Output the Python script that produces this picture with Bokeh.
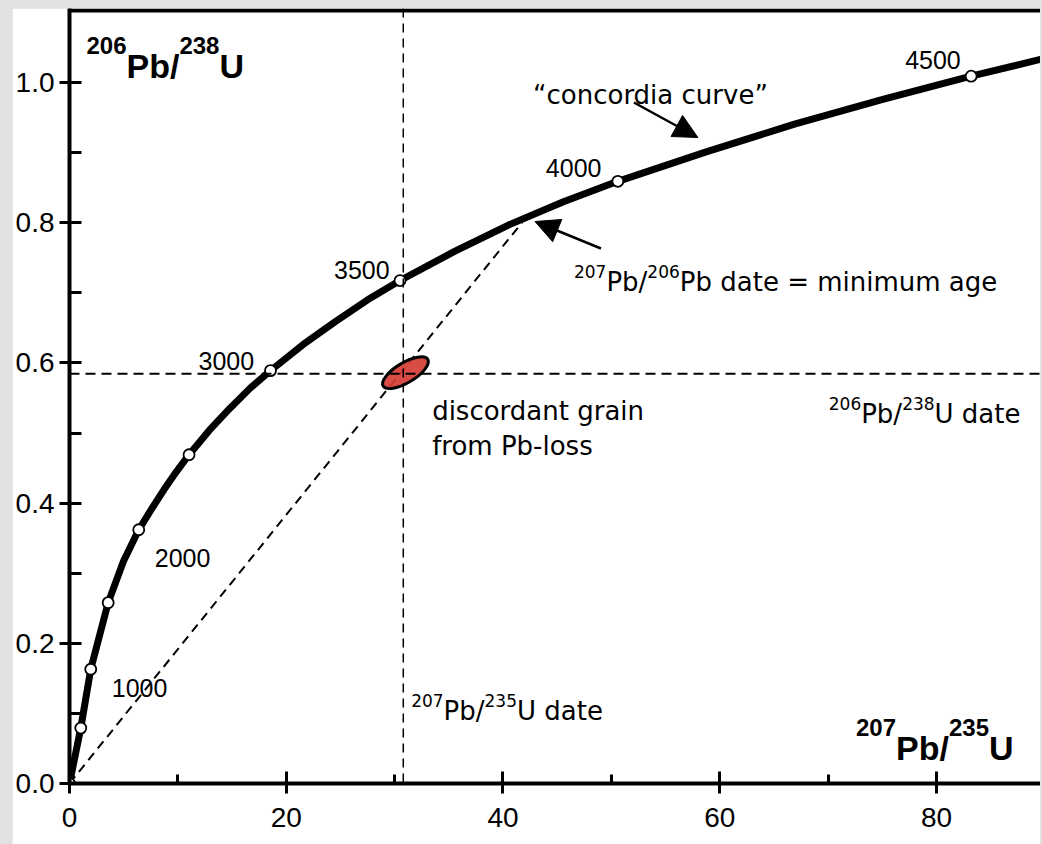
from bokeh.plotting import figure
from bokeh.models import (Range1d, FixedTicker, Span, Arrow, NormalHead,
                          ColumnDataSource, PrintfTickFormatter)
from bokeh.core.properties import value
from bokeh.embed import file_html
from bokeh.resources import INLINE

# ---------------- data ----------------
# concordia curve (207Pb/235U, 206Pb/238U)
curve_x = [0, 1.04, 1.96, 3.57, 4.98, 6.39, 7.55, 8.71, 9.87, 11.03, 12.91, 14.79,
           16.67, 18.55, 21.54, 24.53, 27.51, 30.5, 35.53, 40.55, 45.58, 50.6,
           58.75, 66.9, 75.05, 83.2, 89.6]
curve_y = [0, 0.079, 0.163, 0.258, 0.317, 0.362, 0.391, 0.419, 0.445, 0.469, 0.504,
           0.535, 0.564, 0.589, 0.626, 0.659, 0.690, 0.7175, 0.759, 0.797, 0.830,
           0.859, 0.901, 0.9405, 0.976, 1.009, 1.033]

# age markers on the curve (Ma)
marker_age = [0, 500, 1000, 1500, 2000, 2500, 3000, 3500, 4000, 4500]
marker_x = [0, 1.04, 1.96, 3.57, 6.39, 11.03, 18.55, 30.5, 50.6, 83.2]
marker_y = [0, 0.079, 0.163, 0.258, 0.362, 0.469, 0.589, 0.7175, 0.859, 1.009]
labeled_ages = [1000, 2000, 3000, 3500, 4000, 4500]

# discordant grain and its dates
grain_x = 31.0
grain_y = 0.586
pb207_u235_date = 30.8
pb206_u238_date = 0.5845
discordia_x = [0, 41.8]
discordia_y = [0, 0.801]

x_ticks = [0, 20, 40, 60, 80]
x_minor = [10, 30, 50, 70]
y_ticks = [0.0, 0.2, 0.4, 0.6, 0.8, 1.0]
y_minor = [0.1, 0.3, 0.5, 0.7, 0.9]

# ---------------- figure ----------------
X_END = 89.6
Y_END = 775 / 701.0

p = figure(width=1028, height=836, x_range=Range1d(0, X_END), y_range=Range1d(0, Y_END),
           output_backend="svg", toolbar_location=None,
           min_border_left=56, min_border_right=0, min_border_top=0, min_border_bottom=61)
p.margin = (8, 0, 0, 12)
p.grid.visible = False
p.outline_line_color = None
p.background_fill_color = "white"
p.border_fill_color = "white"

for ax in (p.xaxis[0], p.yaxis[0]):
    ax.axis_line_width = 4
    ax.major_tick_line_width = 3
    ax.minor_tick_line_width = 3
    ax.major_tick_out = 10
    ax.major_tick_in = 12
    ax.minor_tick_out = 0
    ax.major_label_text_font = "Liberation Sans"
    ax.major_label_text_font_size = "28px"
    ax.major_label_text_color = "black"

p.xaxis.ticker = FixedTicker(ticks=x_ticks, minor_ticks=x_minor)
p.yaxis.ticker = FixedTicker(ticks=y_ticks, minor_ticks=y_minor)
p.yaxis.formatter = PrintfTickFormatter(format="%.1f")
p.xaxis.minor_tick_in = 9
p.yaxis.minor_tick_in = 12
p.xaxis.major_label_standoff = 14
p.yaxis.major_label_standoff = 5

# top frame line
p.add_layout(Span(location=Y_END - 2.0 / 701, dimension="width", line_color="black", line_width=4))

# dashed reference lines
p.add_layout(Span(location=pb207_u235_date, dimension="height", line_color="black",
                  line_width=1.5, line_dash="9 6"))
p.add_layout(Span(location=pb206_u238_date, dimension="width", line_color="black",
                  line_width=2, line_dash="10 6"))
p.line(discordia_x, discordia_y, line_color="black", line_width=2, line_dash="9 6")

# concordia
p.line(curve_x, curve_y, line_color="black", line_width=7, line_join="round", line_cap="round")
p.scatter(marker_x, marker_y, size=11, fill_color="white", line_color="black", line_width=1.8)

# grain
p.ellipse(x=[grain_x], y=[grain_y], width=52, height=20, width_units="screen",
          height_units="screen", angle=0.54, fill_color="#d63d36", fill_alpha=0.92,
          line_color="black", line_width=3)

# age labels, placed relative to their markers (pixel offsets)
lab_dx = {1000: 21, 2000: 16, 3000: -72, 3500: -66, 4000: -72, 4500: -66}
lab_dy = {1000: 19, 2000: 28, 3000: -10, 3500: -11, 4000: -13, 4500: -16}
src = ColumnDataSource(dict(
    x=[marker_x[marker_age.index(a)] for a in labeled_ages],
    y=[marker_y[marker_age.index(a)] for a in labeled_ages],
    t=[str(a) for a in labeled_ages],
    dx=[lab_dx[a] for a in labeled_ages],
    dy=[lab_dy[a] for a in labeled_ages]))
p.text(x="x", y="y", text="t", x_offset="dx", y_offset="dy", source=src,
       text_font=value("Liberation Sans"), text_font_size="25px", text_color="black",
       text_align="left", text_baseline="alphabetic")

# ---------------- rich text helper ----------------
DJV = {' ': 0.318, 'P': 0.603, 'b': 0.635, '/': 0.337, 'U': 0.732, 'd': 0.635,
       'a': 0.613, 't': 0.392, 'e': 0.615, '=': 0.838, 'm': 0.974, 'i': 0.278,
       'n': 0.634, 'u': 0.634, 'g': 0.635}
LSB = {'P': 0.667, 'b': 0.611, '/': 0.278, 'U': 0.722, ' ': 0.278}
for d in "0123456789":
    DJV[d] = 0.636
    LSB[d] = 0.556


def tw(s, size, table):
    return sum(table.get(c, 0.6) for c in s) * size


def rich(x, y, parts, font, table, style="normal", anchor="left"):
    total = sum(tw(t, sz, table) for t, sz, r in parts)
    off = {"left": 0.0, "center": -total / 2.0, "right": -total}[anchor]
    for t, sz, r in parts:
        p.text(x=[x], y=[y], text=[t], x_offset=off, y_offset=-r,
               text_font=value(font), text_font_size=f"{sz}px", text_font_style=style,
               text_color="black", text_align="left", text_baseline="alphabetic")
        off += tw(t, sz, table)


def px2x(px):
    return (px - 68) / (972.0 / X_END)


def py2y(py):
    return (783 - py) / 701.0


# axis titles (bold, inside the frame)
rich(px2x(85), py2y(65), [("206", 24, 20), ("Pb/", 34, 0), ("238", 24, 20), ("U", 34, 0)],
     "Liberation Sans", LSB, "bold", "left")
rich(px2x(1013), py2y(747), [("207", 24, 20), ("Pb/", 34, 0), ("235", 24, 20), ("U", 34, 0)],
     "Liberation Sans", LSB, "bold", "right")

# annotations
DV = "DejaVu Sans"
p.text(x=[px2x(532)], y=[py2y(94)], text=["\u201cconcordia curve\u201d"], text_font=value(DV),
       text_font_size="26px", text_align="left", text_baseline="alphabetic", text_color="black")
p.text(x=[px2x(431)] * 2, y=[py2y(410), py2y(445)], text=["discordant grain", "from Pb-loss"],
       text_font=value(DV), text_font_size="26px", text_align="left",
       text_baseline="alphabetic", text_color="black")
rich(px2x(573), py2y(281), [("207", 17, 10), ("Pb/", 26, 0), ("206", 17, 10),
                            ("Pb date = minimum age", 26, 0)], DV, DJV, "normal", "left")
rich(px2x(924), py2y(413), [("206", 17, 10), ("Pb/", 26, 0), ("238", 17, 10),
                            ("U date", 26, 0)], DV, DJV, "normal", "center")
rich(px2x(410), py2y(710), [("207", 17, 10), ("Pb/", 26, 0), ("235", 17, 10),
                            ("U date", 26, 0)], DV, DJV, "normal", "left")

# arrows
p.add_layout(Arrow(end=NormalHead(size=24, fill_color="black", line_color="black", line_width=1),
                   x_start=px2x(633), y_start=py2y(102), x_end=px2x(697), y_end=py2y(137),
                   line_color="black", line_width=2.5))
p.add_layout(Arrow(end=NormalHead(size=24, fill_color="black", line_color="black", line_width=1),
                   x_start=px2x(600), y_start=py2y(248), x_end=px2x(534), y_end=py2y(221),
                   line_color="black", line_width=2.5))

html = file_html(p, INLINE)
style = "<style>html, body { margin: 0; padding: 0; background: #e2e2e2; }</style>"
if "</head>" in html:
    html = html.replace("</head>", style + "\n</head>", 1)
else:
    html = style + html
open("out.html", "w").write(html)
